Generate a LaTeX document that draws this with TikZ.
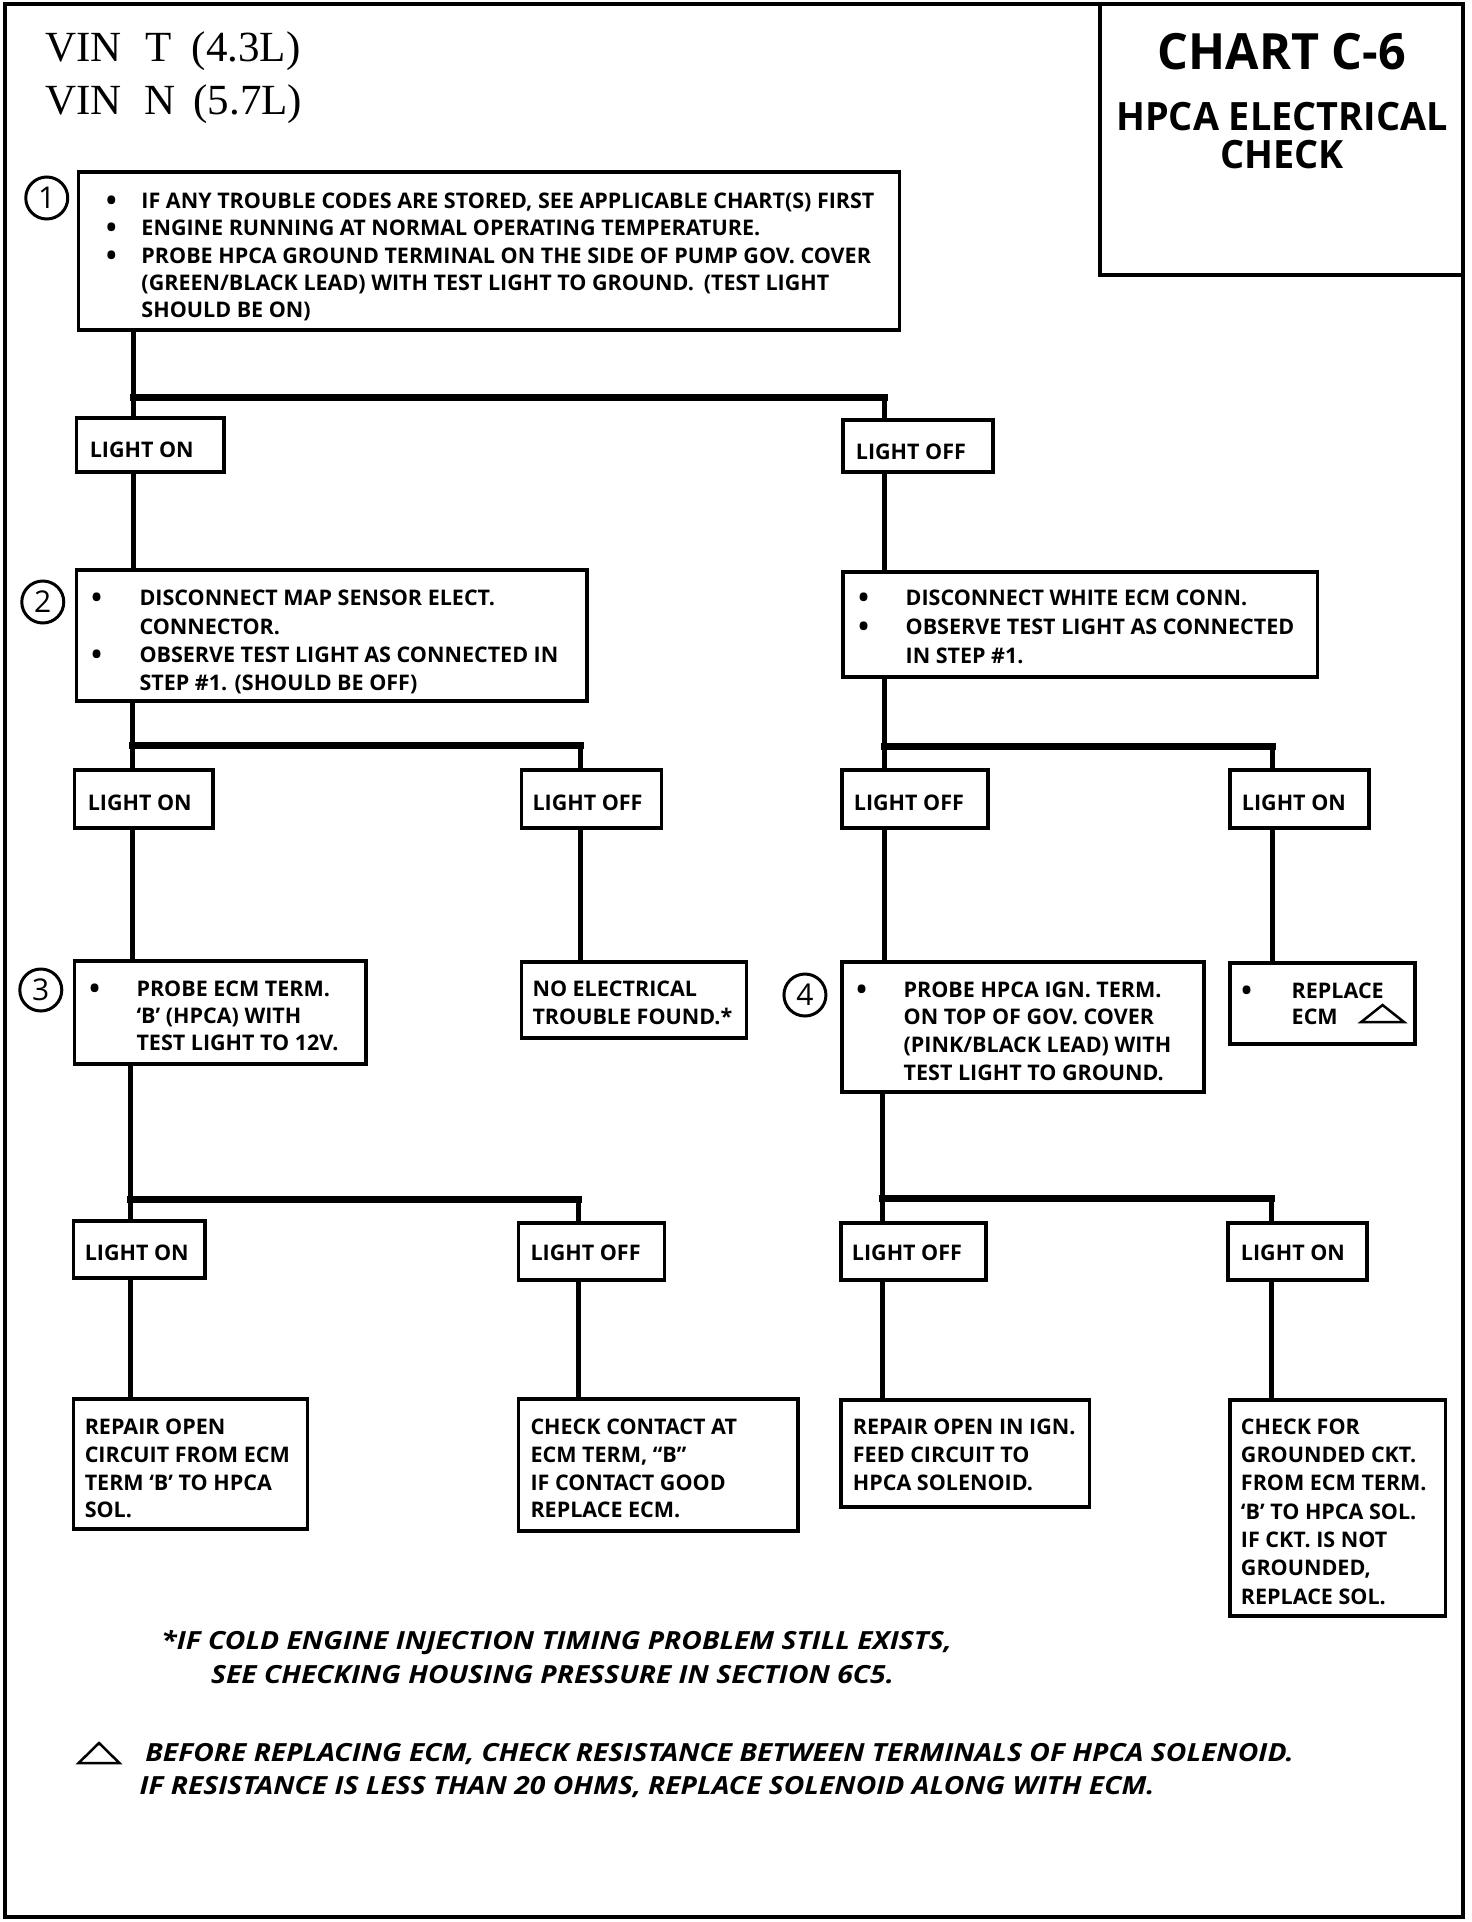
\documentclass[tikz,border=0pt]{standalone}
\usepackage{fontspec}
\setmainfont{Open Sans}[FakeStretch=1.0]
\newfontfamily\seriffont{Liberation Serif}
\newfontfamily\chartfont{Open Sans}[FakeStretch=0.97]
\newfontfamily\notefont{Open Sans}[FakeStretch=1.13]
\usetikzlibrary{fit,calc}
\tikzset{
  frame/.style={draw, line width=4pt, inner sep=0pt},
  box/.style={draw, line width=3.5pt, inner sep=0pt},
  conn/.style={line width=5pt},
  bar/.style={line width=7pt, line cap=rect},
  txt/.style={anchor=base west, inner sep=0pt, font=\bfseries\fontsize{21.5}{24}\selectfont},
  bul/.style={anchor=base, inner sep=0pt, font=\bfseries\fontsize{28}{28}\selectfont},
  note/.style={anchor=base west, inner sep=0pt, font=\notefont\bfseries\itshape\fontsize{25}{28}\selectfont},
  num/.style={draw, circle, line width=3pt, minimum size=42pt, inner sep=0pt, font=\fontsize{30}{30}\selectfont},
  vin/.style={anchor=base west, inner sep=0pt, font=\seriffont\fontsize{43}{43}\selectfont},
  ttl/.style={anchor=base, inner sep=0pt, font=\chartfont\bfseries},
  tri/.style={draw, line width=2.5pt, line join=miter}
}
\newcommand\tl[4]{\node[txt] (#1) at (#2,#3) {#4};}
\newcommand\bl[3]{\node[bul] (#1) at (#2,#3+2) {•};}
\begin{document}
\begin{tikzpicture}[x=1pt,y=-1pt]
\useasboundingbox (0,0) rectangle (1472,1922);
\fill[white] (0,0) rectangle (1472,1922);
\node[frame, fit={(5,4)(1463,1917)}] (frame) {};

% header
\node[vin] (vin1) at (45,61) {VIN\hspace{24pt}T\hspace{20pt}(4.3L)};
\node[vin] (vin2) at (45,114) {VIN\hspace{23pt}N\hspace{18pt}(5.7L)};
\node[box, fit={(1100,4)(1463,275)}] (chart) {};
\node[ttl, font=\chartfont\bfseries\fontsize{50}{50}\selectfont] (ct1) at (1282,69) {CHART C-6};
\node[ttl, font=\chartfont\bfseries\fontsize{39}{39}\selectfont] (ct2) at (1282,130) {HPCA ELECTRICAL};
\node[ttl, font=\chartfont\bfseries\fontsize{39}{39}\selectfont] (ct3) at (1282,168) {CHECK};

\begin{scope}[x=0.995pt]
% step 1
\node[box, fit={(79,172)(904,330)}] (b1) {};
\node[num] (c1) at (47,198) {1};
\bl{b1a}{112}{208}\bl{b1b}{112}{235}\bl{b1c}{112}{263}
\tl{t1a}{142}{208}{IF ANY TROUBLE CODES ARE STORED, SEE APPLICABLE CHART(S) FIRST}
\tl{t1b}{142}{235}{ENGINE RUNNING AT NORMAL OPERATING TEMPERATURE.}
\tl{t1c}{142}{263}{PROBE HPCA GROUND TERMINAL ON THE SIDE OF PUMP GOV. COVER}
\tl{t1d}{142}{290}{(GREEN/BLACK LEAD) WITH TEST LIGHT TO GROUND.\hspace{10pt}(TEST LIGHT}
\tl{t1e}{142}{317}{SHOULD BE ON)}

% level 1 results
\node[box, fit={(77,418)(225,472)}] (l1on) {};
\tl{l1ont}{90}{457}{LIGHT ON}
\node[box, fit={(847,420)(998,472)}] (l1off) {};
\tl{l1offt}{860}{459}{LIGHT OFF}

% step 2 left
\node[box, fit={(77,570)(590,701)}] (b2l) {};
\node[num] (c2) at (43,602) {2};
\bl{b2a}{97}{605}\bl{b2b}{97}{662}
\tl{t2a}{140}{605}{DISCONNECT MAP SENSOR ELECT.}
\tl{t2b}{140}{634}{CONNECTOR.}
\tl{t2c}{140}{662}{OBSERVE TEST LIGHT AS CONNECTED IN}
\tl{t2d}{140}{690}{STEP \#1. (SHOULD BE OFF)}

% step 2 right
\node[box, fit={(847,572)(1324,677)}] (b2r) {};
\bl{b2c}{868}{605}\bl{b2d}{868}{634}
\tl{t2e}{910}{605}{DISCONNECT WHITE ECM CONN.}
\tl{t2f}{910}{634}{OBSERVE TEST LIGHT AS CONNECTED}
\tl{t2g}{910}{663}{IN STEP \#1.}

% level 2 results
\node[box, fit={(75,770)(214,828)}] (l2a) {};
\tl{l2at}{88}{810}{LIGHT ON}
\node[box, fit={(524,770)(665,828)}] (l2b) {};
\tl{l2bt}{535}{810}{LIGHT OFF}
\node[box, fit={(846,770)(993,828)}] (l2c) {};
\tl{l2ct}{858}{810}{LIGHT OFF}
\node[box, fit={(1236,770)(1376,828)}] (l2d) {};
\tl{l2dt}{1248}{810}{LIGHT ON}

% step 3
\node[box, fit={(75,961)(368,1064)}] (b3) {};
\node[num] (c3) at (41,990) {3};
\bl{b3a}{95}{996}
\tl{t3a}{137}{996}{PROBE ECM TERM.}
\tl{t3b}{137}{1023}{‘B’ (HPCA) WITH}
\tl{t3c}{137}{1050}{TEST LIGHT TO 12V.}

\node[box, fit={(524,962)(750,1038)}] (ne) {};
\tl{tnea}{535}{996}{NO ELECTRICAL}
\tl{tneb}{535}{1024}{TROUBLE FOUND.*}

% step 4
\node[box, fit={(846,962)(1210,1092)}] (b4) {};
\node[num] (c4) at (809,995) {4};
\bl{b4a}{866}{997}
\tl{t4a}{908}{997}{PROBE HPCA IGN. TERM.}
\tl{t4b}{908}{1024}{ON TOP OF GOV. COVER}
\tl{t4c}{908}{1052}{(PINK/BLACK LEAD) WITH}
\tl{t4d}{908}{1080}{TEST LIGHT TO GROUND.}

\node[box, fit={(1236,963)(1422,1044)}] (rep) {};
\bl{brep}{1253}{998}
\tl{trepa}{1298}{998}{REPLACE}
\tl{trepb}{1298}{1024}{ECM}
\draw[tri] (1368,1022) -- (1411,1022) -- (1389.5,1005) -- cycle;

% level 3 results
\node[box, fit={(74,1221)(206,1278)}] (l3a) {};
\tl{l3at}{85}{1260}{LIGHT ON}
\node[box, fit={(521,1223)(668,1280)}] (l3b) {};
\tl{l3bt}{533}{1260}{LIGHT OFF}
\node[box, fit={(845,1223)(991,1280)}] (l3c) {};
\tl{l3ct}{856}{1260}{LIGHT OFF}
\node[box, fit={(1234,1223)(1374,1280)}] (l3d) {};
\tl{l3dt}{1247}{1260}{LIGHT ON}

% final boxes
\node[box, fit={(74,1399)(309,1529)}] (r1) {};
\tl{r1a}{85}{1434}{REPAIR OPEN}
\tl{r1b}{85}{1462}{CIRCUIT FROM ECM}
\tl{r1c}{85}{1490}{TERM ‘B’ TO HPCA}
\tl{r1d}{85}{1517}{SOL.}

\node[box, fit={(521,1399)(802,1531)}] (r2) {};
\tl{r2a}{533}{1434}{CHECK CONTACT AT}
\tl{r2b}{533}{1462}{ECM TERM, “B”}
\tl{r2c}{533}{1490}{IF CONTACT GOOD}
\tl{r2d}{533}{1517}{REPLACE ECM.}

\node[box, fit={(845,1400)(1095,1507)}] (r3) {};
\tl{r3a}{857}{1434}{REPAIR OPEN IN IGN.}
\tl{r3b}{857}{1462}{FEED CIRCUIT TO}
\tl{r3c}{857}{1490}{HPCA SOLENOID.}

\node[box, fit={(1236,1400)(1453,1616)}] (r4) {};
\tl{r4a}{1247}{1434}{CHECK FOR}
\tl{r4b}{1247}{1462}{GROUNDED CKT.}
\tl{r4c}{1247}{1490}{FROM ECM TERM.}
\tl{r4d}{1247}{1519}{‘B’ TO HPCA SOL.}
\tl{r4e}{1247}{1547}{IF CKT. IS NOT}
\tl{r4f}{1247}{1575}{GROUNDED,}
\tl{r4g}{1247}{1604}{REPLACE SOL.}

% junction coordinates
\coordinate (j1) at (134,397);  \coordinate (j1r) at (889,397);
\coordinate (j2) at (133,745);  \coordinate (j2r) at (583,745);
\coordinate (j3) at (889,746);  \coordinate (j3r) at (1279,746);
\coordinate (j4) at (131,1199); \coordinate (j4r) at (581,1199);
\coordinate (j5) at (887,1198); \coordinate (j5r) at (1278,1198);

% connectors
\draw[conn] (b1.south -| j1) -- (l1on.north -| j1);
\draw[bar] (j1) -- (j1r);
\draw[conn] (j1r) -- (l1off.north -| j1r);
\draw[conn] (l1on.south -| j1) -- (b2l.north -| j1);
\draw[conn] (l1off.south -| j1r) -- (b2r.north -| j1r);

\draw[conn] (b2l.south -| j2) -- (l2a.north -| j2);
\draw[bar] (j2) -- (j2r);
\draw[conn] (j2r) -- (l2b.north -| j2r);
\draw[conn] (b2r.south -| j3) -- (l2c.north -| j3);
\draw[bar] (j3) -- (j3r);
\draw[conn] (j3r) -- (l2d.north -| j3r);

\draw[conn] (l2a.south -| j2) -- (b3.north -| j2);
\draw[conn] (l2b.south -| j2r) -- (ne.north -| j2r);
\draw[conn] (l2c.south -| j3) -- (b4.north -| j3);
\draw[conn] (l2d.south -| j3r) -- (rep.north -| j3r);

\draw[conn] (b3.south -| j4) -- (l3a.north -| j4);
\draw[bar] (j4) -- (j4r);
\draw[conn] (j4r) -- (l3b.north -| j4r);
\draw[conn] (b4.south -| j5) -- (l3c.north -| j5);
\draw[bar] (j5) -- (j5r);
\draw[conn] (j5r) -- (l3d.north -| j5r);

\draw[conn] (l3a.south -| j4) -- (r1.north -| j4);
\draw[conn] (l3b.south -| j4r) -- (r2.north -| j4r);
\draw[conn] (l3c.south -| j5) -- (r3.north -| j5);
\draw[conn] (l3d.south -| j5r) -- (r4.north -| j5r);

% notes
\node[note] (n1) at (162,1649) {*IF COLD ENGINE INJECTION TIMING PROBLEM STILL EXISTS,};
\node[note] (n2) at (212,1683) {SEE CHECKING HOUSING PRESSURE IN SECTION 6C5.};
\draw[tri] (79,1763) -- (120,1763) -- (99.5,1743) -- cycle;
\node[note] (n3) at (146,1761) {BEFORE REPLACING ECM, CHECK RESISTANCE BETWEEN TERMINALS OF HPCA SOLENOID.};
\node[note] (n4) at (140,1794) {IF RESISTANCE IS LESS THAN 20 OHMS, REPLACE SOLENOID ALONG WITH ECM.};
\end{scope}
\end{tikzpicture}
\end{document}
